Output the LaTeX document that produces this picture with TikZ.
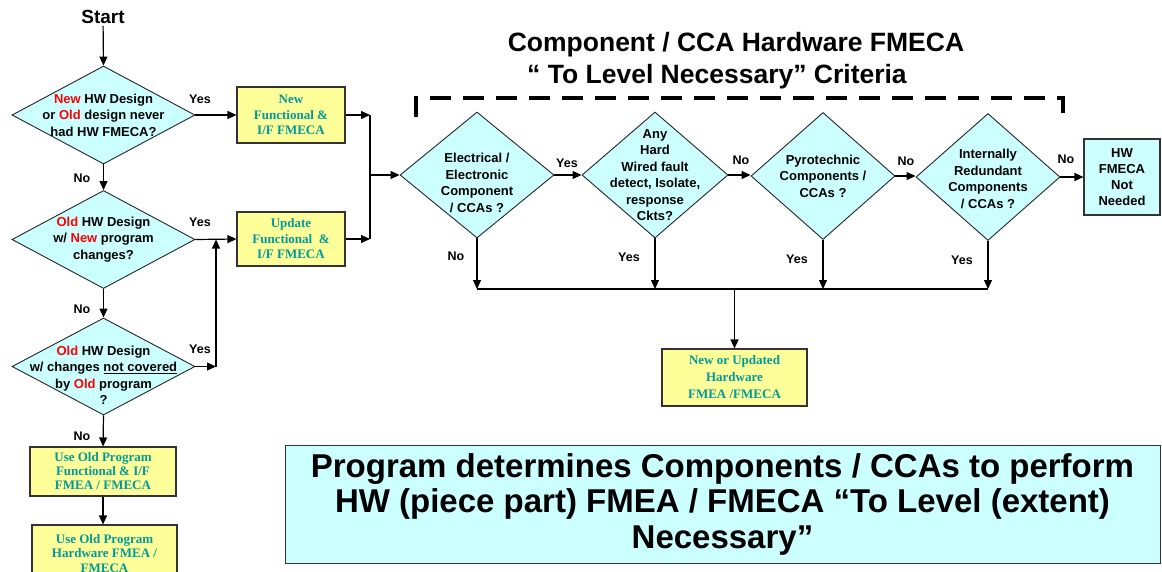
\documentclass[tikz,border=0pt]{standalone}
\usepackage{fontspec}
\setmainfont{Liberation Sans}
\newfontfamily\timesf{Liberation Serif}
\usetikzlibrary{shapes.geometric,arrows.meta}
\definecolor{cyanfill}{RGB}{204,255,255}
\definecolor{yelfill}{RGB}{255,255,153}
\definecolor{tealtxt}{RGB}{0,153,153}
\definecolor{redtxt}{RGB}{255,0,0}
\newcommand{\rd}[1]{\textcolor{redtxt}{#1}}
\begin{document}
\begin{tikzpicture}[x=1pt,y=-1pt,
  conn/.style={line width=1.2pt,draw=black},
  arr/.style={conn,-{Triangle[length=9pt,width=8pt]}},
  dia/.style={diamond,draw=black!85,line width=0.9pt,fill=cyanfill,inner sep=0pt},
  dtxt/.style={font=\bfseries\fontsize{13}{16.5}\selectfont,align=center,inner sep=0pt},
  ybox/.style={draw=black!80,line width=1.1pt,fill=yelfill,text=tealtxt,
    font=\timesf\bfseries\fontsize{13}{15.5}\selectfont,align=center,inner sep=0pt},
  cbox/.style={draw=black!80,line width=1.1pt,fill=cyanfill,align=center,inner sep=0pt},
  lbl/.style={font=\bfseries\fontsize{12.5}{14}\selectfont,inner sep=0pt},
  ttl/.style={font=\bfseries\fontsize{26.5}{30}\selectfont,inner sep=0pt}]
\useasboundingbox (0,0) rectangle (1162,571);
\clip (0,0) rectangle (1162,571);

% Left column
\node[font=\bfseries\fontsize{19}{22}\selectfont,inner sep=2pt] (start) at (103,17) {Start};
\node[dia,minimum width=183pt,minimum height=98pt] (d1) at (103.5,115) {};
\node[dtxt] (d1t) at (d1) {\rd{New} HW Design\\or \rd{Old} design never\\had HW FMECA?};
\node[dia,minimum width=183pt,minimum height=98pt] (d2) at (103.5,239.5) {};
\node[dtxt] (d2t) at (d2) {\rd{Old} HW Design\\w/ \rd{New} program\\changes?};
\node[dia,minimum width=183pt,minimum height=97pt] (d3) at (103.5,366.5) {};
\node[dtxt] (d3t) at (103.5,375.5) {\rd{Old} HW Design\\w/ changes \underline{not covered}\\by \rd{Old} program\\?};

\node[ybox,minimum width=108pt,minimum height=56pt] (b1) at (291,115) {New\\Functional \&\\I/F FMECA};
\node[ybox,minimum width=108pt,minimum height=54pt] (b2) at (291,239) {Update\\Functional ~\&\\I/F FMECA};
\node[ybox,minimum width=146pt,minimum height=49pt,font=\timesf\bfseries\fontsize{13}{14}\selectfont] (b3) at (103,471.5) {Use Old Program\\Functional \& I/F\\FMEA / FMECA};
\node[ybox,minimum width=145pt,minimum height=57pt,font=\timesf\bfseries\fontsize{13}{14.5}\selectfont] (b4) at (104.5,553.5) {Use Old Program\\Hardware FMEA /\\FMECA};

\draw[arr] (start) -- (d1.north);
\draw[arr] (d1.south) -- (d2.north);
\draw[arr] (d2.south) -- (d3.north);
\draw[arr] (d3.south) -- (b3.north);
\draw[arr] (b3.south) -- (b3.south |- b4.north);
\draw[arr] (d1.east) -- (b1.west);
\draw[arr] (d2.east) -- (b2.west);
\coordinate (j3) at (216,366.5);
\draw[arr] (d3.east) -- (j3);
\draw[arr] (j3) -- (j3 |- d2.east);

\node[lbl] (y1) at (200,99) {Yes};
\node[lbl] (y2) at (200,222) {Yes};
\node[lbl] (y3) at (200,349) {Yes};
\node[lbl] (n1) at (82,178) {No};
\node[lbl] (n2) at (82,309) {No};
\node[lbl] (n3) at (82,436) {No};

% merge
\coordinate (m1) at (370,115);
\coordinate (m2) at (370,239);
\coordinate (m3) at (370,175);
\draw[arr] (b1.east) -- (m1);
\draw[arr] (b2.east) -- (m2);
\draw[conn] (m1) -- (m2);

% Title and bracket
\node[ttl] (t1) at (736,45) {Component / CCA Hardware FMECA};
\node[ttl] (t2) at (717,77) {“ To Level Necessary” Criteria};
\coordinate (k1) at (416,117);
\coordinate (k2) at (416,98);
\coordinate (k3) at (1063,98);
\coordinate (k4) at (1063,117);
\draw[line width=4.5pt,dash pattern=on 21pt off 12pt] (k1) -- (k2) -- (k3) -- (k4);

% Right row
\node[dia,minimum width=154pt,minimum height=126pt] (d4) at (477,175) {};
\node[dtxt] (d4t) at (477,183) {Electrical /\\Electronic\\Component\\/ CCAs ?};
\node[dia,minimum width=146pt,minimum height=126pt] (d5) at (655,175) {};
\node[dtxt] (d5t) at (d5) {Any\\Hard\\Wired fault\\detect, Isolate,\\response\\Ckts?};
\node[dia,minimum width=144pt,minimum height=127pt] (d6) at (823,176) {};
\node[dtxt] (d6t) at (d6) {Pyrotechnic\\Components /\\CCAs ?};
\node[dia,minimum width=144pt,minimum height=127pt] (d7) at (988,177) {};
\node[dtxt] (d7t) at (988,179) {Internally\\Redundant\\Components\\/ CCAs ?};
\node[cbox,minimum width=76pt,minimum height=76pt,font=\bfseries\fontsize{13}{16}\selectfont] (nn) at (1122,177) {HW\\FMECA\\Not\\Needed};

\draw[arr] (m3) -- (d4.west);
\draw[arr] (d4.east) -- (d5.west);
\draw[arr] (d5.east) -- (d5.east -| d6.west);
\draw[arr] (d6.east) -- (d6.east -| d7.west);
\draw[arr] (d7.east) -- (nn.west);

\node[lbl] (y4) at (567,163) {Yes};
\node[lbl] (n5) at (741,160) {No};
\node[lbl] (n6) at (906,161) {No};
\node[lbl] (n7) at (1066,159) {No};
\node[lbl] (n4) at (456,256) {No};
\node[lbl] (y5) at (629,257) {Yes};
\node[lbl] (y6) at (797,259) {Yes};
\node[lbl] (y7) at (962,260) {Yes};

\coordinate (hl) at (477,289);
\coordinate (hr) at (988,289);
\coordinate (hm) at (734.5,289);
\draw[arr] (d4.south) -- (d4.south |- hl);
\draw[arr] (d5.south) -- (d5.south |- hl);
\draw[arr] (d6.south) -- (d6.south |- hl);
\draw[arr] (d7.south) -- (d7.south |- hl);
\draw[conn] (hl) -- (hr);
\node[ybox,minimum width=145pt,minimum height=57pt,font=\timesf\bfseries\fontsize{13}{17}\selectfont] (b5) at (734.5,377.5) {New or Updated\\Hardware\\FMEA /FMECA};
\draw[arr] (hm) -- (b5.north);

% Big box
\node[cbox,line width=0.9pt,minimum width=875pt,minimum height=118pt,font=\bfseries\fontsize{33}{35.5}\selectfont] (big) at (722.5,504) {Program determines Components / CCAs to perform\\HW (piece part) FMEA / FMECA “To Level (extent)\\Necessary”};
\end{tikzpicture}
\end{document}
